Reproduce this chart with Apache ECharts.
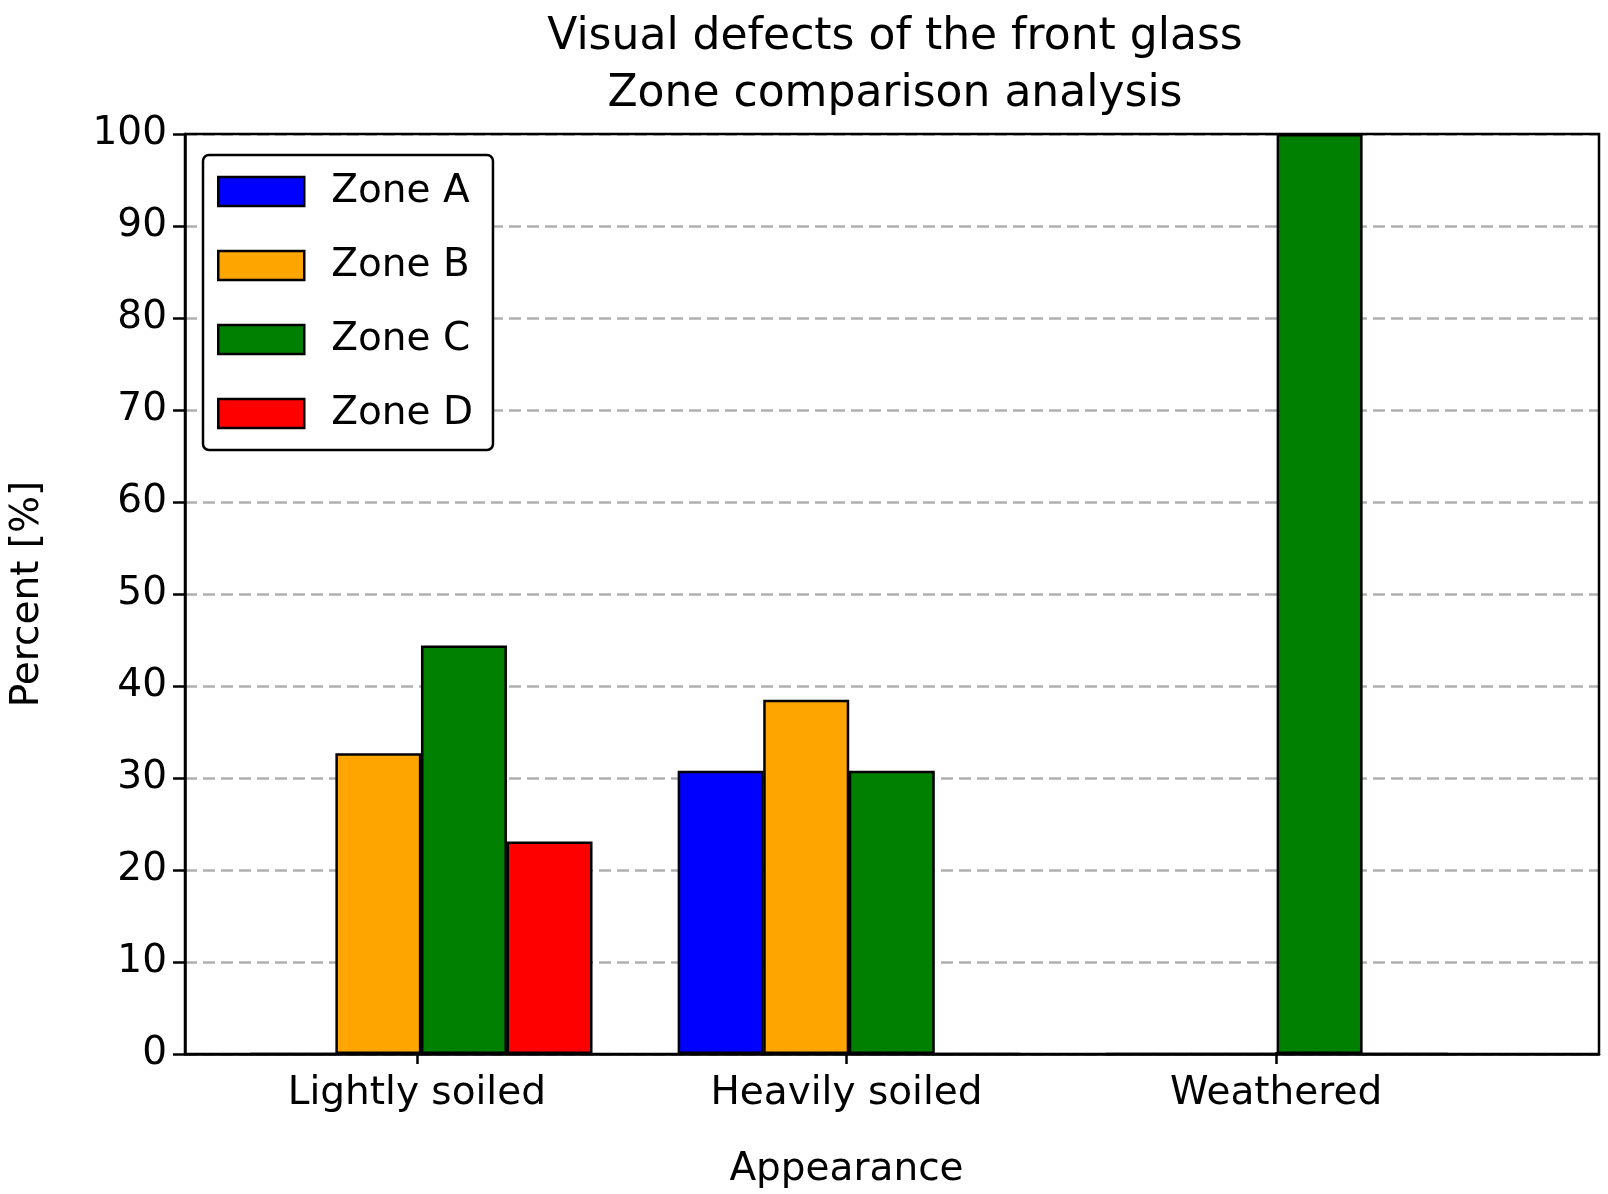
<!DOCTYPE html>
<html>
<head>
<meta charset="utf-8">
<script src="https://cdn.jsdelivr.net/npm/echarts@6/dist/echarts.min.js"></script>
<style>html,body{margin:0;padding:0;background:#fff}#chart{width:1608px;height:1194px}</style>
</head>
<body>
<div id="chart"></div>
<script>
const categories = ['Lightly soiled', 'Heavily soiled', 'Weathered'];
const zones = ['Zone A', 'Zone B', 'Zone C', 'Zone D'];
const zoneA = [0, 30.8, 0];
const zoneB = [32.7, 38.5, 0];
const zoneC = [44.4, 30.8, 100];
const zoneD = [23.1, 0, 0];
const yTicks = [0, 10, 20, 30, 40, 50, 60, 70, 80, 90, 100];

const ZONE_COLORS = ['#0000ff', '#ffa500', '#008000', '#ff0000'];
const FONT = 'DejaVu Sans';

const chart = echarts.init(document.getElementById('chart'));

// each group is 0.8 wide, four bars side by side
const seriesData = [zoneA, zoneB, zoneC, zoneD].map((vals, k) => ({
  name: zones[k],
  type: 'bar',
  xAxisIndex: 0,
  yAxisIndex: 0,
  barWidth: 86,
  barGap: '-100%',
  itemStyle: { color: ZONE_COLORS[k], borderColor: '#000', borderWidth: 2.5 },
  data: vals.map((v, i) => [i + (k - 1.5) * 0.2, v]),
}));

chart.setOption({
  animation: false,
  title: {
    text: 'Visual defects of the front glass\nZone comparison analysis',
    left: 890, top: 4, textAlign: 'center',
    textStyle: { fontFamily: FONT, fontSize: 44, fontWeight: 'normal', color: '#000', lineHeight: 57 },
  },
  legend: {
    orient: 'vertical', left: 203, top: 155, icon: 'rect',
    itemWidth: 86, itemHeight: 29, itemGap: 35, padding: [17, 20, 17, 14],
    backgroundColor: '#fff', borderColor: '#000', borderWidth: 2.5, borderRadius: 6,
    textStyle: { fontFamily: FONT, fontSize: 39, color: '#000', padding: [0, 0, 0, 22] },
    itemStyle: { borderColor: '#000', borderWidth: 2.5 },
    data: zones,
  },
  grid: [
    { left: 180, top: 134, width: 1419, height: 920, show: true, borderColor: '#000', borderWidth: 2.5, z: 5 },
    { left: 202, top: 134, width: 1289, height: 920 },
  ],
  xAxis: [
    {
      type: 'value', gridIndex: 0, min: -0.552, max: 2.753,
      axisLine: { show: true, onZero: false, lineStyle: { color: '#000', width: 2.5 } },
      axisTick: { show: false }, axisLabel: { show: false }, splitLine: { show: false },
    },
    {
      type: 'category', gridIndex: 1, data: categories,
      name: 'Appearance', nameLocation: 'middle', nameGap: 98,
      nameTextStyle: { fontFamily: FONT, fontSize: 39, color: '#000' },
      axisLine: { show: false },
      axisTick: { show: true, alignWithLabel: true, length: 12, lineStyle: { color: '#000', width: 2.5 } },
      axisLabel: { fontFamily: FONT, fontSize: 39, color: '#000', margin: 22 },
    },
  ],
  yAxis: [
    {
      type: 'value', gridIndex: 0, min: yTicks[0], max: yTicks[yTicks.length - 1], interval: 10,
      name: 'Percent [%]', nameLocation: 'middle', nameGap: 138,
      nameTextStyle: { fontFamily: FONT, fontSize: 39, color: '#000' },
      axisLine: { show: true, onZero: false, lineStyle: { color: '#000', width: 2.5 } },
      axisTick: { show: true, length: 12, lineStyle: { color: '#000', width: 2.5 } },
      axisLabel: { fontFamily: FONT, fontSize: 39, color: '#000', margin: 18,
        formatter: (v) => yTicks.includes(v) ? String(v) : '' },
      splitLine: { show: true, lineStyle: { color: '#b0b0b0', width: 2.5, type: [12, 6] } },
    },
    { type: 'value', gridIndex: 1, show: false, min: 0, max: 100,
      axisLine: { show: false, onZero: false } },
  ],
  series: seriesData,
});
</script>
</body>
</html>
